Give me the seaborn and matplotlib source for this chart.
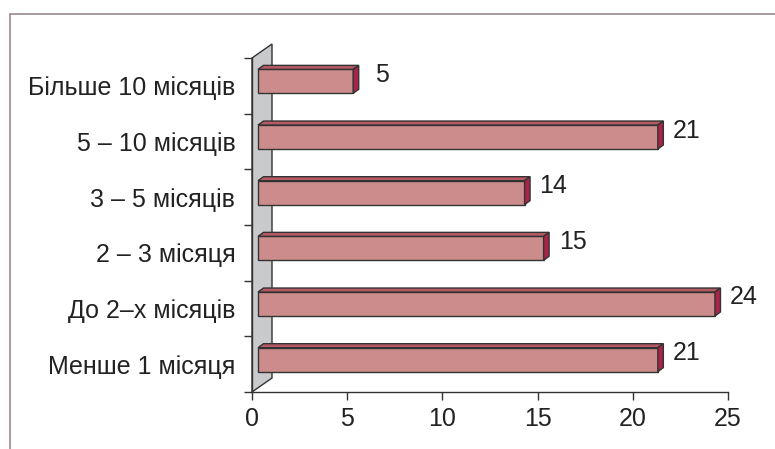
import matplotlib
matplotlib.use("Agg")
import matplotlib.pyplot as plt
import matplotlib.transforms as mtransforms
from matplotlib.patches import Polygon
from matplotlib.lines import Line2D
import seaborn as sns
import pandas as pd

# data
categories = ["Більше 10 місяців", "5 – 10 місяців", "3 – 5 місяців",
              "2 – 3 місяця", "До 2–х місяців", "Менше 1 місяця"]
values = [5, 21, 14, 15, 24, 21]
x_ticks = [0, 5, 10, 15, 20, 25]

front_col = "#CD8C8C"
top_col = "#B65A64"
end_col = "#A8254A"
wall_col = "#C9CACC"
edge_col = "#333333"
text_col = "#222222"

sns.set_style("white")
plt.rcParams['font.family'] = ['Liberation Sans', 'DejaVu Sans']
FS = 18

W, H = 775, 449
fig = plt.figure(figsize=(W / 100, H / 100), dpi=100)
ax = fig.add_axes([252 / W, 57 / H, 476 / W, 334 / H])

df = pd.DataFrame({"cat": categories, "val": values})
sns.barplot(data=df, x="val", y="cat", orient="h", width=0.43, color=front_col,
            saturation=1, edgecolor=edge_col, linewidth=1, ax=ax, zorder=3)

ax.set_xlim(0, 25)
ax.set_ylim(len(categories) - 0.5, -0.5)
ax.set_xlabel("")
ax.set_ylabel("")

# pixel scales
px_x = 476 / 25
px_y = 334 / len(categories)

# back wall (pseudo 3D)
wd_x, wd_y = 20 / px_x, 14 / px_y
y0, y1 = len(categories) - 0.5, -0.5
wall = Polygon([(0, y0), (0, y1), (wd_x, y1 - wd_y), (wd_x, y0 - wd_y)],
               closed=True, facecolor=wall_col, edgecolor=edge_col, lw=1,
               clip_on=False, zorder=1)
ax.add_patch(wall)

# shift bars a little off the wall and add top / end faces
shift = mtransforms.ScaledTranslation(6 / 100, 4.5 / 100, fig.dpi_scale_trans)
dx, dy = 5.5 / px_x, 4 / px_y
for p, v in zip(list(ax.patches)[:len(values)], values):
    p.set_transform(ax.transData + shift)
    p.set_clip_on(False)
    x0, yb, w, h = p.get_x(), p.get_y(), p.get_width(), p.get_height()
    ytop = yb  # inverted axis: smaller y is higher
    top = Polygon([(x0, ytop), (x0 + dx, ytop - dy), (x0 + w + dx, ytop - dy), (x0 + w, ytop)],
                  closed=True, facecolor=top_col, edgecolor=edge_col, lw=1,
                  transform=ax.transData + shift, clip_on=False, zorder=3)
    end = Polygon([(x0 + w, ytop), (x0 + w + dx, ytop - dy), (x0 + w + dx, ytop + h - dy), (x0 + w, ytop + h)],
                  closed=True, facecolor=end_col, edgecolor=edge_col, lw=1,
                  transform=ax.transData + shift, clip_on=False, zorder=3)
    ax.add_patch(top)
    ax.add_patch(end)

# value labels
lab_off = mtransforms.ScaledTranslation(35 / 100, 11 / 100, fig.dpi_scale_trans)
for i, v in enumerate(values):
    ax.text(v, i, str(v), transform=ax.transData + lab_off, ha="center", va="center",
            fontsize=FS, color=text_col, clip_on=False)

# axes styling
for s in ["top", "right"]:
    ax.spines[s].set_visible(False)
for s in ["left", "bottom"]:
    ax.spines[s].set_color(edge_col)
    ax.spines[s].set_linewidth(1)

ax.set_xticks(x_ticks)
ax.set_xticklabels([str(t) for t in x_ticks])
ax.tick_params(axis="x", direction="out", length=6, width=1, color=edge_col,
               labelsize=FS, labelcolor=text_col, pad=5, bottom=True)
ax.set_yticks(range(len(categories)))
ax.set_yticks([i - 0.5 for i in range(len(categories) + 1)], minor=True)
ax.tick_params(axis="y", which="major", length=0, pad=12, labelsize=FS, labelcolor=text_col, left=True)
ax.tick_params(axis="y", which="minor", length=6, width=1, color=edge_col, left=True)
ax.grid(False)

# outer frame lines (top and left)
frame_col = "#9A8A8C"
fig.add_artist(Line2D([9.5 / W, 1], [1 - 14 / H, 1 - 14 / H], color=frame_col, lw=1.2))
fig.add_artist(Line2D([9.5 / W, 9.5 / W], [0, 1 - 14 / H], color=frame_col, lw=1.2))

fig.savefig("out.png", dpi=100)
